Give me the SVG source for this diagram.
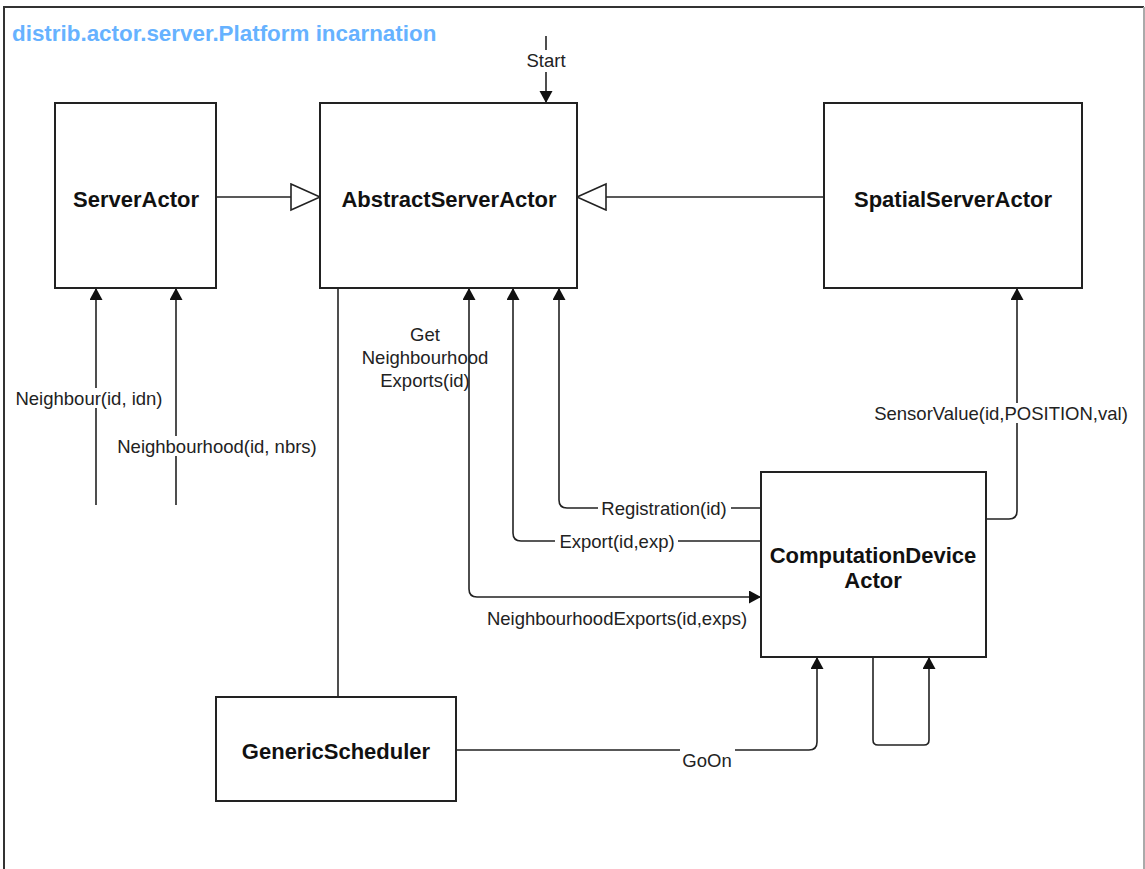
<svg xmlns="http://www.w3.org/2000/svg" width="1145" height="869" viewBox="0 0 1145 869">
<style>
.node{fill:#fff;stroke:#222;stroke-width:2}
.nlabel{font-family:"Liberation Sans",Arial,sans-serif;font-weight:bold;font-size:22px;fill:#111;text-anchor:middle}
.elabel{font-family:"Liberation Sans",Arial,sans-serif;font-size:18.5px;fill:#222;text-anchor:middle}
.edge{fill:none;stroke:#222;stroke-width:1.6}
.bg{fill:#fff}
</style>
<defs>
<marker id="arr" markerUnits="userSpaceOnUse" markerWidth="14" markerHeight="14" refX="12" refY="6.5" orient="auto-start-reverse"><path d="M0,0 L12,6.5 L0,13 z" fill="#111"/></marker>
<marker id="tri" markerUnits="userSpaceOnUse" markerWidth="32" markerHeight="30" refX="30" refY="14" orient="auto"><path d="M1,1 L30,14 L1,27 z" fill="#fff" stroke="#222" stroke-width="1.6"/></marker>
</defs>
<rect width="1145" height="869" fill="#fff"/>
<path d="M4,880 V7 H1144" fill="none" stroke="#333" stroke-width="2"/>
<path d="M1144,7 V880" fill="none" stroke="#aaa" stroke-width="2"/>
<text x="12" y="41" font-family="'Liberation Sans',Arial,sans-serif" font-weight="bold" font-size="22.4px" fill="#66B2FF">distrib.actor.server.Platform incarnation</text>

<g id="connectors">
<path class="edge" d="M216,197 H320" marker-end="url(#tri)"/>
<path class="edge" d="M824,197 H577" marker-end="url(#tri)"/>
<path class="edge" d="M546,36 V103" marker-end="url(#arr)"/>
<path class="edge" d="M96,505 V288" marker-end="url(#arr)"/>
<path class="edge" d="M176,505 V288" marker-end="url(#arr)"/>
<path class="edge" d="M338,288 V697"/>
<path class="edge" d="M761,508 H567 Q559,508 559,500 V288" marker-end="url(#arr)"/>
<path class="edge" d="M761,541 H521 Q513,541 513,533 V288" marker-end="url(#arr)"/>
<path class="edge" d="M469,288 V589 Q469,597 477,597 H761" marker-start="url(#arr)" marker-end="url(#arr)"/>
<path class="edge" d="M986,519 H1009 Q1017,519 1017,511 V288" marker-end="url(#arr)"/>
<path class="edge" d="M456,750 H809 Q817,750 817,742 V657" marker-end="url(#arr)"/>
<path class="edge" d="M873,657 V740 Q873,745 878,745 H924 Q929,745 929,740 V657" marker-end="url(#arr)"/>

<rect class="bg" x="524" y="50" width="44" height="22"/>
<text class="elabel" x="546" y="67">Start</text>
<rect class="bg" x="12" y="388" width="155" height="20"/>
<text class="elabel" x="89" y="404.5">Neighbour(id, idn)</text>
<rect class="bg" x="112" y="436" width="210" height="20"/>
<text class="elabel" x="217" y="452.5">Neighbourhood(id, nbrs)</text>
<text class="elabel" x="425" y="341">Get</text>
<text class="elabel" x="425" y="364">Neighbourhood</text>
<text class="elabel" x="425" y="387">Exports(id)</text>
<rect class="bg" x="598" y="498" width="133" height="20"/>
<text class="elabel" x="664" y="514.5">Registration(id)</text>
<rect class="bg" x="555" y="531" width="123" height="20"/>
<text class="elabel" x="617" y="547.5">Export(id,exp)</text>
<text class="elabel" x="617" y="624.5">NeighbourhoodExports(id,exps)</text>
<rect class="bg" x="868" y="403" width="266" height="20"/>
<text class="elabel" x="1001" y="419.5">SensorValue(id,POSITION,val)</text>
<rect class="bg" x="680" y="749" width="55" height="20"/>
<text class="elabel" x="707" y="766.5">GoOn</text>
</g>

<g id="ServerActor"><rect class="node" x="55" y="103" width="161" height="185"/><text class="nlabel" x="136" y="207">ServerActor</text></g>
<g id="AbstractServerActor"><rect class="node" x="320" y="103" width="257" height="185"/><text class="nlabel" x="449" y="207">AbstractServerActor</text></g>
<g id="SpatialServerActor"><rect class="node" x="824" y="103" width="258" height="185"/><text class="nlabel" x="953" y="207">SpatialServerActor</text></g>
<g id="ComputationDeviceActor"><rect class="node" x="761" y="472" width="225" height="185"/><text class="nlabel" x="873" y="563">ComputationDevice</text><text class="nlabel" x="873" y="588">Actor</text></g>
<g id="GenericScheduler"><rect class="node" x="216" y="697" width="240" height="104"/><text class="nlabel" x="336" y="759">GenericScheduler</text></g>
</svg>
